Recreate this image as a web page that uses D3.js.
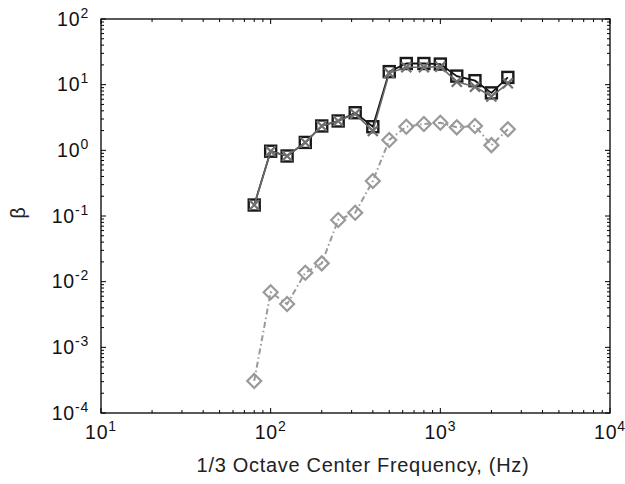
<!DOCTYPE html>
<html><head><meta charset="utf-8">
<script src="https://cdn.jsdelivr.net/npm/d3@7"></script>
<style>body{margin:0;background:#fff}svg{display:block}text{font-family:"Liberation Sans",Arial,sans-serif}</style>
</head><body>
<svg id="c" width="625" height="484"></svg>
<script>
const freqs = [80,100,125,160,200,250,315,400,500,630,800,1000,1250,1600,2000,2500];
const squareVals = [0.147,0.97,0.82,1.32,2.35,2.8,3.74,2.29,15.8,21,21,20.6,13.5,11.5,7.5,12.9];
const crossVals  = [0.147,0.97,0.82,1.32,2.35,2.8,3.6,1.97,15,18.4,18.4,18.8,11.1,9.3,6.6,10.5];
const diamondVals= [3.08e-4,6.9e-3,4.57e-3,0.0137,0.019,0.087,0.112,0.341,1.44,2.29,2.52,2.63,2.24,2.35,1.2,2.09];
const xExps = [1,2,3,4];
const yExps = [-4,-3,-2,-1,0,1,2];

const svg = d3.select("#c");
const L=101,R=610,T=19,B=413;
const x = d3.scaleLog().domain([10,1e4]).range([L,R]);
const y = d3.scaleLog().domain([1e-4,1e2]).range([B,T]);

const xMinor=[], yMinor=[];
for(let e=1;e<4;e++) for(let m=2;m<=9;m++) xMinor.push(m*Math.pow(10,e));
for(let e=-4;e<2;e++) for(let m=2;m<=9;m++) yMinor.push(m*Math.pow(10,e));
const g = svg.append("g");
function ticks(vals,len){
  vals.forEach(v=>{
    const px=x(v);
    g.append("line").attr("x1",px).attr("x2",px).attr("y1",B).attr("y2",B-len).attr("stroke","#000");
    g.append("line").attr("x1",px).attr("x2",px).attr("y1",T).attr("y2",T+len).attr("stroke","#000");
  });
}
function yticks(vals,len){
  vals.forEach(v=>{
    const py=y(v);
    g.append("line").attr("y1",py).attr("y2",py).attr("x1",L).attr("x2",L+len).attr("stroke","#000");
    g.append("line").attr("y1",py).attr("y2",py).attr("x1",R).attr("x2",R-len).attr("stroke","#000");
  });
}
ticks(xMinor,3); ticks(xExps.map(e=>Math.pow(10,e)),5);
yticks(yMinor,3); yticks(yExps.map(e=>Math.pow(10,e)),5);
g.append("rect").attr("x",L).attr("y",T).attr("width",R-L).attr("height",B-T)
  .attr("fill","none").attr("stroke","#000").attr("stroke-width",1.3);

xExps.forEach(e=>{
  const t=svg.append("text").attr("x",x(Math.pow(10,e))).attr("y",439).attr("text-anchor","middle")
    .attr("font-size",19.5).attr("letter-spacing",0.8).attr("fill","#111");
  t.append("tspan").text("10");
  t.append("tspan").attr("dy",-8).attr("font-size",14).text(e);
});
yExps.forEach(e=>{
  const t=svg.append("text").attr("x",89).attr("y",y(Math.pow(10,e))+6.5).attr("text-anchor","end")
    .attr("font-size",19.5).attr("letter-spacing",0.8).attr("fill","#111");
  t.append("tspan").text("10");
  t.append("tspan").attr("dy",-8).attr("font-size",14).text(e);
});
svg.append("text").attr("x",363).attr("y",472).attr("text-anchor","middle").attr("font-size",20)
  .attr("letter-spacing",0.7).attr("fill","#222").text("1/3 Octave Center Frequency, (Hz)");
svg.append("text").attr("transform","translate(25,213) rotate(-90)").attr("text-anchor","middle")
  .attr("font-size",20).attr("fill","#222").text("β");

const line = d3.line().x(d=>x(d[0])).y(d=>y(d[1]));
const dData = freqs.map((f,i)=>[f,diamondVals[i]]);
const sData = freqs.map((f,i)=>[f,squareVals[i]]);
const cData = freqs.map((f,i)=>[f,crossVals[i]]);

svg.append("path").datum(dData).attr("d",line).attr("fill","none").attr("stroke","#9a9a9a")
  .attr("stroke-width",2).attr("stroke-dasharray","6,3,1.5,3");
svg.selectAll(".dm").data(dData).join("path").attr("class","dm")
  .attr("transform",d=>`translate(${x(d[0])},${y(d[1])})`)
  .attr("d","M0,-7L7,0L0,7L-7,0Z").attr("fill","none").attr("stroke","#9a9a9a").attr("stroke-width",2.2);

svg.append("path").datum(sData).attr("d",line).attr("fill","none").attr("stroke","#111").attr("stroke-width",1.8);
svg.selectAll(".sq").data(sData).join("rect").attr("class","sq")
  .attr("x",d=>x(d[0])-5.5).attr("y",d=>y(d[1])-5.5).attr("width",11).attr("height",11)
  .attr("fill","none").attr("stroke","#1a1a1a").attr("stroke-width",2.4);

svg.append("path").datum(cData).attr("d",line).attr("fill","none").attr("stroke","#6a6a6a").attr("stroke-width",1.6);
svg.selectAll(".cx").data(cData).join("path").attr("class","cx")
  .attr("transform",d=>`translate(${x(d[0])},${y(d[1])})`)
  .attr("d","M-5,-5L5,5M-5,5L5,-5").attr("fill","none").attr("stroke","#707070").attr("stroke-width",2.2);
</script>
</body></html>
